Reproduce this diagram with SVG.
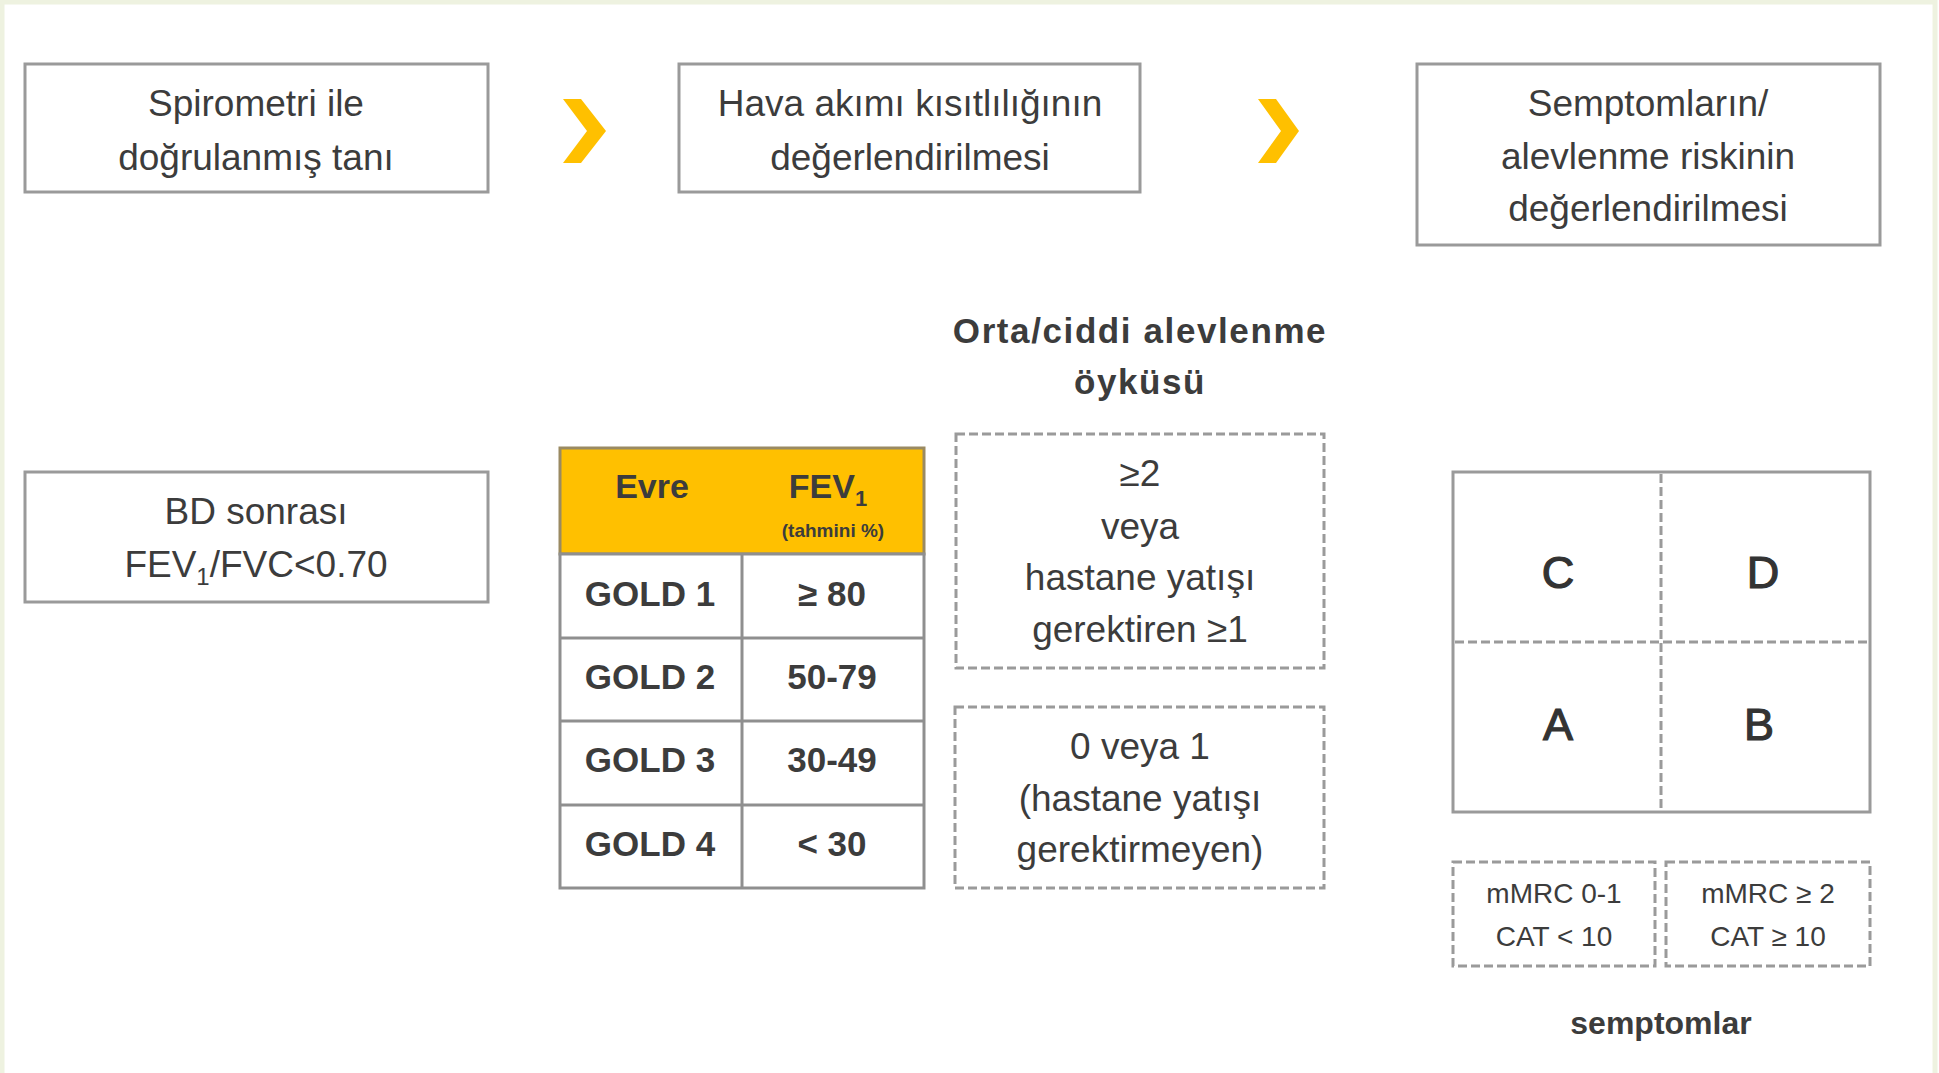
<svg xmlns="http://www.w3.org/2000/svg" width="1939" height="1073" viewBox="0 0 1939 1073">
<style>
.box{fill:#ffffff;stroke:#9a9a9a;stroke-width:3}
.dash{fill:#ffffff;stroke:#9a9a9a;stroke-width:3;stroke-dasharray:9 4}
.dline{fill:none;stroke:#9a9a9a;stroke-width:3;stroke-dasharray:9 4}
.grid{fill:none;stroke:#8f8f8f;stroke-width:3}
.t{font-family:"Liberation Sans",Arial,sans-serif;font-size:37px;fill:#3c3c3c;text-anchor:middle}
.q{font-family:"Liberation Sans",Arial,sans-serif;font-size:45px;fill:#333333;stroke:#333333;stroke-width:1.2;text-anchor:middle}
.s{font-family:"Liberation Sans",Arial,sans-serif;font-size:28px;fill:#3c3c3c;text-anchor:middle}
.b{font-family:"Liberation Sans",Arial,sans-serif;font-weight:bold;fill:#3c3c3c;text-anchor:middle}
.chev{fill:#FFC000}
</style>
<rect x="0" y="0" width="1939" height="1073" fill="#ffffff"/>
<rect x="2" y="2" width="1933" height="1075" fill="none" stroke="#eef2e0" stroke-width="5"/>

<g id="connectors">
<polygon class="chev" points="563,99 581,99 606,131 581,163 563,163 587,131"/>
<polygon class="chev" points="1258,99 1276,99 1299,131 1276,163 1258,163 1281,131"/>
</g>

<g id="node-spirometri">
<rect class="box" x="25" y="64" width="463" height="128"/>
<text class="t" x="256" y="116">Spirometri ile</text>
<text class="t" x="256" y="170">doğrulanmış tanı</text>
</g>

<g id="node-hava">
<rect class="box" x="679" y="64" width="461" height="128"/>
<text class="t" x="910" y="116">Hava akımı kısıtlılığının</text>
<text class="t" x="910" y="170">değerlendirilmesi</text>
</g>

<g id="node-semptom">
<rect class="box" x="1417" y="64" width="463" height="181"/>
<text class="t" x="1648" y="116">Semptomların/</text>
<text class="t" x="1648" y="169">alevlenme riskinin</text>
<text class="t" x="1648" y="221">değerlendirilmesi</text>
</g>

<g id="node-bd">
<rect class="box" x="25" y="472" width="463" height="130"/>
<text class="t" x="256" y="524">BD sonrası</text>
<text class="t" x="256" y="577">FEV<tspan font-size="24" dy="8">1</tspan><tspan dy="-8">/FVC&lt;0.70</tspan></text>
</g>

<g id="node-table">
<rect x="560" y="448" width="364" height="106" fill="#FFC000" stroke="#9a8a62" stroke-width="3"/>
<rect x="560" y="554" width="364" height="334" fill="#ffffff" stroke="#8f8f8f" stroke-width="3"/>
<line class="grid" x1="742" y1="554" x2="742" y2="888"/>
<line class="grid" x1="560" y1="638" x2="924" y2="638"/>
<line class="grid" x1="560" y1="721" x2="924" y2="721"/>
<line class="grid" x1="560" y1="805" x2="924" y2="805"/>
<text class="b" x="652" y="498" font-size="34">Evre</text>
<text class="b" x="828" y="498" font-size="34">FEV<tspan font-size="22" dy="8">1</tspan></text>
<text class="b" x="833" y="537" font-size="19">(tahmini %)</text>
<text class="b" x="650" y="606" font-size="35">GOLD 1</text>
<text class="b" x="832" y="606" font-size="35">≥ 80</text>
<text class="b" x="650" y="689" font-size="35">GOLD 2</text>
<text class="b" x="832" y="689" font-size="35">50-79</text>
<text class="b" x="650" y="772" font-size="35">GOLD 3</text>
<text class="b" x="832" y="772" font-size="35">30-49</text>
<text class="b" x="650" y="856" font-size="35">GOLD 4</text>
<text class="b" x="832" y="856" font-size="35">&lt; 30</text>
</g>

<g id="node-title-orta">
<text class="b" x="1140" y="343" font-size="35" letter-spacing="1.6">Orta/ciddi alevlenme</text>
<text class="b" x="1140" y="394" font-size="35" letter-spacing="1.6">öyküsü</text>
</g>

<g id="node-ge2">
<rect class="dash" x="956" y="434" width="368" height="234"/>
<text class="t" x="1140" y="486">≥2</text>
<text class="t" x="1140" y="539">veya</text>
<text class="t" x="1140" y="590">hastane yatışı</text>
<text class="t" x="1140" y="642">gerektiren ≥1</text>
</g>

<g id="node-0or1">
<rect class="dash" x="955" y="707" width="369" height="181"/>
<text class="t" x="1140" y="759">0 veya 1</text>
<text class="t" x="1140" y="811">(hastane yatışı</text>
<text class="t" x="1140" y="862">gerektirmeyen)</text>
</g>

<g id="node-quadrant">
<rect class="box" x="1453" y="472" width="417" height="340"/>
<line class="dline" x1="1661" y1="474" x2="1661" y2="810"/>
<line class="dline" x1="1455" y1="642" x2="1868" y2="642"/>
<text class="q" x="1558" y="588">C</text>
<text class="q" x="1763" y="588">D</text>
<text class="q" x="1558" y="740">A</text>
<text class="q" x="1759" y="740">B</text>
</g>

<g id="node-mmrc-low">
<rect class="dash" x="1453" y="862" width="202" height="104"/>
<text class="s" x="1554" y="903">mMRC 0-1</text>
<text class="s" x="1554" y="946">CAT &lt; 10</text>
</g>

<g id="node-mmrc-high">
<rect class="dash" x="1666" y="862" width="204" height="104"/>
<text class="s" x="1768" y="903">mMRC ≥ 2</text>
<text class="s" x="1768" y="946">CAT ≥ 10</text>
</g>

<g id="node-semptomlar">
<text class="b" x="1661" y="1034" font-size="32">semptomlar</text>
</g>
</svg>
